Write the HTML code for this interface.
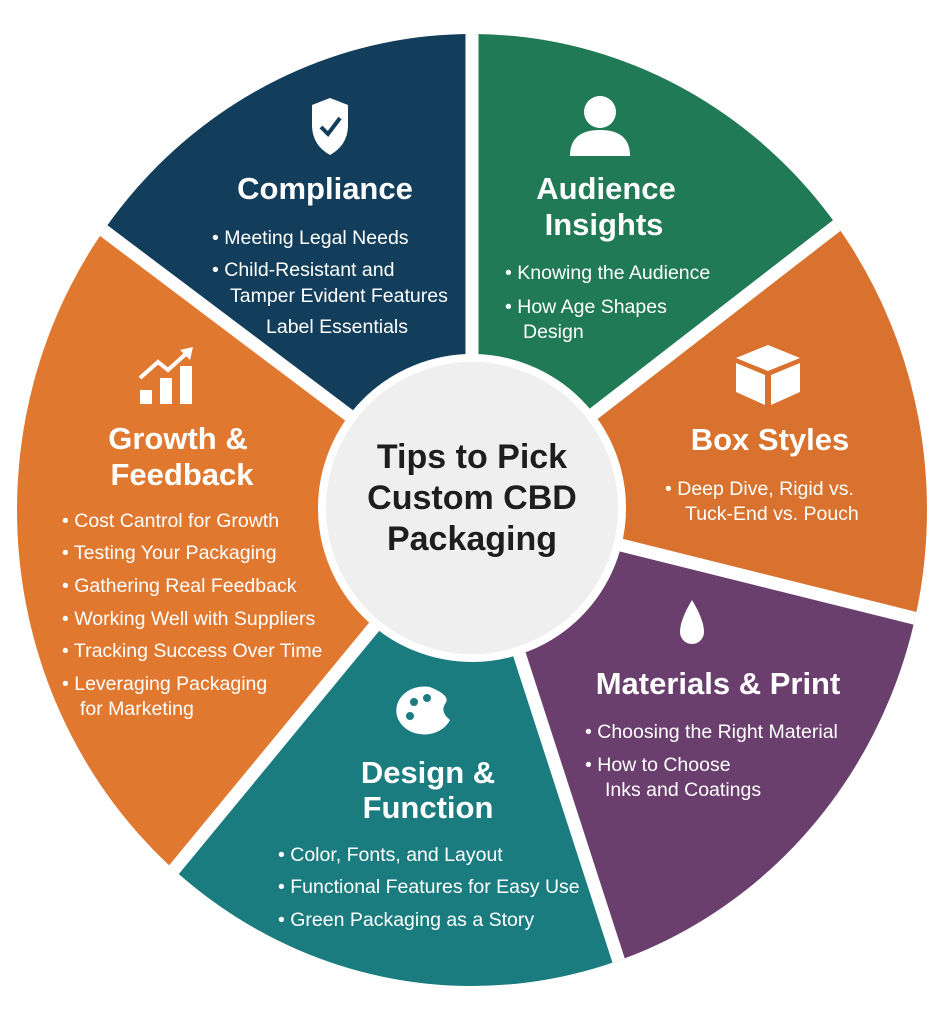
<!DOCTYPE html>
<html><head><meta charset="utf-8"><style>
html,body{margin:0;padding:0;background:#fff;width:945px;height:1024px;overflow:hidden;}
svg{display:block;font-family:"Liberation Sans",sans-serif;}
.t{font-weight:bold;font-size:31px;fill:#fff;text-anchor:middle;}
.b{font-size:19.5px;fill:#fff;}
</style></head><body>
<svg width="945" height="1024" viewBox="0 0 945 1024">
<defs><clipPath id="c"><ellipse cx="472" cy="510" rx="455" ry="476"/></clipPath></defs>
<rect width="945" height="1024" fill="#fff"/>
<g clip-path="url(#c)">
<g transform="translate(472,508)">
<path d="M0 0 L0 -500 L470 -500 L470 -364 Z" fill="#217a56"/>
<path d="M0 0 L470 -364 L470 117 Z" fill="#d9722e"/>
<path d="M0 0 L470 117 L470 500 L162 500 Z" fill="#6a3f6d"/>
<path d="M0 0 L162 500 L-412 500 Z" fill="#1b7c80"/>
<path d="M0 0 L-412 500 L-470 500 L-470 -354 Z" fill="#e07830"/>
<path d="M0 0 L-470 -354 L-470 -500 L0 -500 Z" fill="#123e5b"/>
<g stroke="#fff" stroke-width="13">
<line x1="0" y1="0" x2="0" y2="-500"/>
<line x1="0" y1="0" x2="470" y2="-364"/>
<line x1="0" y1="0" x2="470" y2="117"/>
<line x1="0" y1="0" x2="162" y2="500"/>
<line x1="0" y1="0" x2="-412" y2="500"/>
<line x1="0" y1="0" x2="-470" y2="-354"/>
</g>
</g>
</g>
<circle cx="472" cy="508" r="150" fill="#efefef" stroke="#fff" stroke-width="8"/>

<g font-weight="bold" font-size="34" fill="#1e1e1e" text-anchor="middle">
<text x="472" y="468">Tips to Pick</text>
<text x="472" y="509">Custom CBD</text>
<text x="472" y="550">Packaging</text>
</g>

<path d="M330 98 L348 105 L348 125 Q348 145 330 155 Q312 145 312 125 L312 105 Z" fill="#fff"/>
<path d="M321 127 L328 134 L340 118" stroke="#123e5b" stroke-width="4" fill="none"/>
<text class="t" x="325" y="199">Compliance</text>
<text class="b" x="212" y="244">•  Meeting Legal Needs</text>
<text class="b" x="212" y="276">•  Child-Resistant and</text>
<text class="b" x="230" y="302">Tamper Evident Features</text>
<text class="b" x="266" y="333">Label Essentials</text>

<circle cx="600" cy="112" r="16" fill="#fff"/>
<path d="M570 156 Q570 130 600 130 Q630 130 630 156 Z" fill="#fff"/>
<text class="t" x="606" y="199">Audience</text>
<text class="t" x="604" y="235">Insights</text>
<text class="b" x="505" y="279">•  Knowing the Audience</text>
<text class="b" x="505" y="313">•  How Age Shapes</text>
<text class="b" x="523" y="338">Design</text>

<path d="M768 345 L800 358 L768 371 L736 358 Z" fill="#fff"/>
<path d="M736 363 L765 375 L765 405 L736 392 Z M771 375 L800 363 L800 392 L771 405 Z" fill="#fff"/>
<text class="t" x="770" y="450">Box Styles</text>
<text class="b" x="665" y="495">•  Deep Dive, Rigid vs.</text>
<text class="b" x="685" y="520">Tuck-End vs. Pouch</text>

<path d="M692 600 Q680 620 680 632 A12 12 0 0 0 704 632 Q704 620 692 600 Z" fill="#fff"/>
<text class="t" x="718" y="694">Materials &amp; Print</text>
<text class="b" x="585" y="738">•  Choosing the Right Material</text>
<text class="b" x="585" y="771">•  How to Choose</text>
<text class="b" x="605" y="796">Inks and Coatings</text>

<path d="M430 687 A28 24 0 1 0 450 720 Q440 712 445 704 Q452 696 430 687 Z" fill="#fff"/>
<circle cx="414" cy="702" r="4" fill="#1b7c80"/><circle cx="427" cy="698" r="4" fill="#1b7c80"/><circle cx="410" cy="716" r="4" fill="#1b7c80"/>
<text class="t" x="428" y="783">Design &amp;</text>
<text class="t" x="428" y="818">Function</text>
<text class="b" x="278" y="861">•  Color, Fonts, and Layout</text>
<text class="b" x="278" y="893">•  Functional Features for Easy Use</text>
<text class="b" x="278" y="926">•  Green Packaging as a Story</text>

<rect x="140" y="390" width="12" height="14" fill="#fff"/>
<rect x="160" y="378" width="12" height="26" fill="#fff"/>
<rect x="180" y="366" width="12" height="38" fill="#fff"/>
<path d="M140 378 L158 362 L168 370 L188 352" stroke="#fff" stroke-width="4" fill="none"/>
<path d="M180 350 L193 347 L190 360 Z" fill="#fff"/>
<text class="t" x="178" y="449">Growth &amp;</text>
<text class="t" x="182" y="485">Feedback</text>
<text class="b" x="62" y="527">•  Cost Cantrol for Growth</text>
<text class="b" x="62" y="559">•  Testing Your Packaging</text>
<text class="b" x="62" y="592">•  Gathering Real Feedback</text>
<text class="b" x="62" y="625">•  Working Well with Suppliers</text>
<text class="b" x="62" y="657">•  Tracking Success Over Time</text>
<text class="b" x="62" y="690">•  Leveraging Packaging</text>
<text class="b" x="80" y="715">for Marketing</text>
</svg>
</body></html>
